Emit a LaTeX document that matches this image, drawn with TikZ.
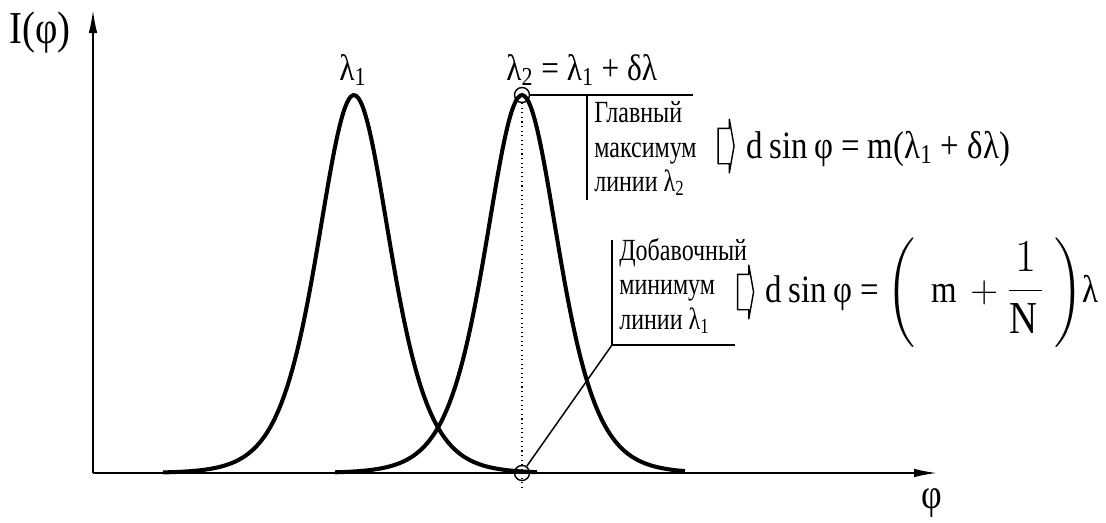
\documentclass[tikz,border=0pt]{standalone}
\usepackage{fix-cm}
\usepackage{amsmath}
\usepackage{fontspec}
\setmainfont{Liberation Serif}[FakeStretch=0.85]
\newfontfamily\notefont{Liberation Serif}[FakeStretch=0.78]
\usetikzlibrary{arrows.meta,shapes.arrows}

\begin{document}
\begin{tikzpicture}[
    curve/.style={line width=2.3pt,samples=160,smooth},
    axis/.style={line width=0.9pt,-{Latex[length=4.6mm,width=1.7mm]}},
    lead/.style={line width=0.85pt},
    ring/.style={circle,draw,line width=0.8pt,minimum size=0.3cm,inner sep=0pt},
    note/.style={anchor=north west,align=left,inner sep=0pt,font=\notefont\fontsize{17.5}{19.4}\selectfont},
    formula/.style={anchor=base west,inner sep=0pt,font=\fontsize{22}{26}\selectfont},
    label/.style={inner sep=0pt,font=\fontsize{21}{25}\selectfont},
    hollow/.style={single arrow,draw,line width=0.8pt,inner xsep=0pt,inner ysep=0.34cm,
      minimum height=0.32cm,single arrow head extend=0.19cm,single arrow tip angle=160}
  ]
  \useasboundingbox (-1.86,-0.98) rectangle (20.26,9.46);
  \coordinate (O) at (0,0);
  \coordinate (xend) at (16.88,0);
  \coordinate (yend) at (0,9.26);
  \draw[axis] (O) -- (xend);
  \draw[axis] (O) -- (yend);
  \node[anchor=base west,inner sep=0pt,font=\fontsize{26}{30}\selectfont] (ilab) at (-1.68,8.6) {I(φ)};
  \node[anchor=base,inner sep=0pt,font=\fontsize{24}{28}\selectfont] (philab) at (16.78,-0.7) {φ};

  \draw[curve] plot[domain=1.4:8.88] (\x,{7.56/pow(cosh((\x-5.22)/0.976),2)});
  \draw[curve] plot[domain=4.84:11.84] (\x,{7.56/pow(cosh((\x-8.58)/0.976),2)});

  \node[ring] (top) at (8.58,7.56) {};
  \node[ring] (bot) at (8.58,0) {};
  \coordinate (dend) at (8.58,-0.34);
  \draw[dotted,line width=0.6pt] (top.south) -- (dend);

  \node[label,anchor=base] (lam1) at (5.2,7.86) {λ\textsubscript{1}};
  \node[label,anchor=base west] (lam2) at (8.26,7.86) {λ\textsubscript{2} = λ\textsubscript{1} + δλ};

  \coordinate (t1) at (12.0,7.56);
  \coordinate (b1) at (9.88,7.56);
  \coordinate (b2) at (9.88,5.46);
  \draw[lead] (top.east) -- (t1);
  \draw[lead] (b1) -- (b2);
  \node[note] (main) at (10.02,7.43) {Главный\\максимум\\линии λ\textsubscript{2}};
  \node[hollow] (arr1) at (12.63,6.54) {};
  \node[formula] (f2) at (13.06,6.3) {d\,sin\,φ = m(λ\textsubscript{1} + δλ)};

  \coordinate (c1) at (10.38,4.66);
  \coordinate (c2) at (10.38,2.56);
  \coordinate (c3) at (12.84,2.56);
  \draw[lead] (c1) -- (c2) -- (c3);
  \draw[lead] (c2) -- (bot);
  \node[note] (extra) at (10.52,4.69) {Добавочный\\минимум\\линии λ\textsubscript{1}};
  \node[hollow] (arr2) at (13.02,3.62) {};
  \node[formula] (f3) at (13.44,3.42) {d\,sin\,φ = $\left(\vrule height 1.06cm depth 0.66cm width 0pt\hspace{0.32cm}\mathrm{m}+\mbox{\fontsize{26}{30}\selectfont$\dfrac{1}{\mathrm{N}}$}\hspace{0.2cm}\right)$λ};
\end{tikzpicture}
\end{document}
